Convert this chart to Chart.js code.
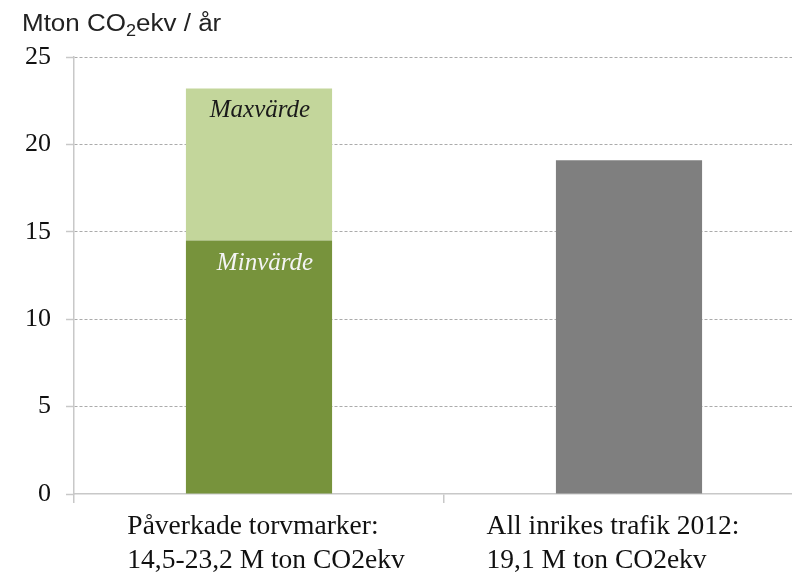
<!DOCTYPE html>
<html lang="sv">

<head>
    <meta charset="UTF-8">
    <title>Torvmarker och trafik</title>
    <script src="https://cdn.jsdelivr.net/npm/chart.js@4.4.0/dist/chart.umd.min.js"></script>
    <style>
        html, body { margin: 0; padding: 0; overflow: hidden; background: #fff; }
        #chart { display: block; }
    </style>
</head>

<body>
    <canvas id="chart" width="816" height="572"></canvas>

    <script>
        // data ------------------------------------------------------
        const categories = [
            ['Påverkade torvmarker:', '14,5-23,2 M ton CO2ekv'],
            ['All inrikes trafik 2012:', '19,1 M ton CO2ekv']
        ]
        const minValues = [14.5, null]
        const maxValues = [23.2, null]
        const trafficValues = [null, 19.1]
        const yTicks = [0, 5, 10, 15, 20, 25]

        // the light part sits on top of the min part
        const maxPart = maxValues.map((v, i) => v == null ? null : v - minValues[i])

        const serif = "'Liberation Serif', 'Times New Roman', serif"
        const sans = "'Liberation Sans', Arial, sans-serif"

        // y-axis title with subscript 2 (original text is a bit wide, stretch it)
        const titlePlugin = {
            id: 'unitTitle',
            afterDraw(chart) {
                const ctx = chart.ctx
                ctx.save()
                ctx.translate(22, 31)
                ctx.scale(1.13, 1)
                ctx.fillStyle = '#222'
                ctx.textBaseline = 'alphabetic'
                ctx.textAlign = 'left'
                let x = 0
                ctx.font = '23px ' + sans
                ctx.fillText('Mton CO', x, 0)
                x += ctx.measureText('Mton CO').width
                ctx.font = '16px ' + sans
                ctx.fillText('2', x, 5)
                x += ctx.measureText('2').width
                ctx.font = '23px ' + sans
                ctx.fillText('ekv / år', x, 0)
                ctx.restore()
            }
        }

        // two-line category labels, left aligned as a block
        const xLabelPlugin = {
            id: 'xLabels',
            afterDraw(chart) {
                const ctx = chart.ctx
                const xs = chart.scales.x
                const shift = [7, -16]
                ctx.save()
                ctx.font = '27.5px ' + serif
                ctx.fillStyle = '#111'
                ctx.textAlign = 'left'
                ctx.textBaseline = 'alphabetic'
                categories.forEach((lines, i) => {
                    const cx = xs.getPixelForValue(i)
                    const w = Math.max(...lines.map(l => ctx.measureText(l).width))
                    const left = cx - w / 2 + shift[i]
                    lines.forEach((l, j) => {
                        ctx.fillText(l, left, chart.chartArea.bottom + 40 + j * 34)
                    })
                })
                ctx.restore()
            }
        }

        // Maxvärde / Minvärde inside the stacked bar
        const barTextPlugin = {
            id: 'barText',
            afterDatasetsDraw(chart) {
                const ctx = chart.ctx
                ctx.save()
                ctx.font = 'italic 25px ' + serif
                ctx.textAlign = 'center'
                ctx.textBaseline = 'middle'
                const minBar = chart.getDatasetMeta(0).data[0]
                const maxBar = chart.getDatasetMeta(1).data[0]
                ctx.fillStyle = '#1a1a1a'
                ctx.fillText('Maxvärde', maxBar.x + 1, maxBar.y + 22)
                ctx.fillStyle = '#f4f4f4'
                ctx.fillText('Minvärde', minBar.x + 6, minBar.y + 23)
                ctx.restore()
            }
        }

        const ctx = document.getElementById('chart').getContext('2d')
        const myChart = new Chart(ctx, {
            type: 'bar',
            data: {
                labels: categories,
                datasets: [{
                    label: 'Minvärde',
                    data: minValues,
                    backgroundColor: '#77933C'
                }, {
                    label: 'Maxvärde',
                    data: maxPart,
                    backgroundColor: '#C3D69B'
                }, {
                    label: 'Trafik',
                    data: trafficValues,
                    backgroundColor: '#7F7F7F'
                }]
            },
            options: {
                responsive: false,
                animation: false,
                categoryPercentage: 1,
                barPercentage: 0.395,
                layout: {
                    padding: { top: 57, right: 2, left: 0, bottom: 0 }
                },
                plugins: {
                    legend: { display: false },
                    tooltip: { enabled: false },
                    title: { display: false }
                },
                scales: {
                    x: {
                        stacked: true,
                        offset: true,
                        grid: {
                            offset: true,
                            drawOnChartArea: false,
                            drawTicks: true,
                            tickLength: 9,
                            color: '#c8c8c8',
                            lineWidth: 1.5
                        },
                        border: { color: '#c8c8c8', width: 1.5 },
                        ticks: { display: false },
                        afterFit(scale) { scale.height = 78 }
                    },
                    y: {
                        stacked: true,
                        min: 0,
                        max: 25,
                        afterBuildTicks(scale) {
                            scale.ticks = yTicks.map(v => ({ value: v }))
                        },
                        grid: {
                            color: ctx => ctx.tick && ctx.tick.value === 0 ? 'rgba(0,0,0,0)' : '#ababab',
                            lineWidth: 1,
                            tickLength: 8,
                            tickColor: '#c8c8c8',
                            tickWidth: 1.5,
                            tickBorderDash: []
                        },
                        border: { color: '#c8c8c8', width: 1.5, dash: [3, 2] },
                        ticks: {
                            font: { family: serif, size: 26 },
                            color: '#111',
                            padding: 15
                        },
                        afterFit(scale) { scale.width = 74 }
                    }
                }
            },
            plugins: [titlePlugin, xLabelPlugin, barTextPlugin]
        })
    </script>

</body>

</html>
